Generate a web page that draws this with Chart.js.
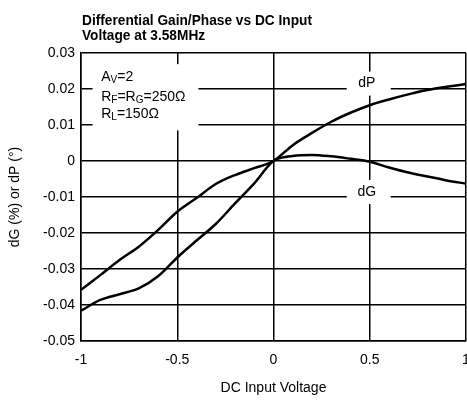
<!DOCTYPE html>
<html>
<head>
<meta charset="utf-8">
<script src="https://cdn.jsdelivr.net/npm/chart.js@4.4.1/dist/chart.umd.min.js"></script>
<style>
  html, body { margin: 0; padding: 0; background: #fff; }
  #wrap { width: 467px; height: 401px; position: relative; }
</style>
</head>
<body>
<div id="wrap"><canvas id="dgChart"></canvas></div>
<script>
// DC input voltage (V)
const voltage = [-1, -0.9, -0.8, -0.7, -0.6, -0.5, -0.4, -0.3, -0.2, -0.1, 0,
                 0.1, 0.2, 0.3, 0.4, 0.5, 0.6, 0.7, 0.8, 0.9, 1];
// differential phase (degrees)
const dP = [-0.0358, -0.0317, -0.0275, -0.0238, -0.0192, -0.0141, -0.0103, -0.0064, -0.0039, -0.002, 0,
            0.0044, 0.0078, 0.0109, 0.0134, 0.0155, 0.0171, 0.0185, 0.0197, 0.0206, 0.0214];
// differential gain (%)
const dG = [-0.0416, -0.0386, -0.037, -0.0354, -0.032, -0.0268, -0.0221, -0.0175, -0.0118, -0.0062, 0,
            0.0014, 0.0017, 0.0013, 0.0006, -0.0002, -0.0018, -0.0032, -0.0043, -0.0054, -0.0063];

const xTicks = [-1, -0.5, 0, 0.5, 1];
const yTicks = [-0.05, -0.04, -0.03, -0.02, -0.01, 0, 0.01, 0.02, 0.03];

const titleLines = ['Differential Gain/Phase vs DC Input', 'Voltage at 3.58MHz'];

const regular = '"Liberation Sans", Arial, sans-serif';

function toPoints(ys) {
    return voltage.map((v, i) => ({ x: v, y: ys[i] }));
}

// draw text with subscript parts: [[text, isSub], ...]
function drawRich(ctx, parts, x, y) {
    parts.forEach(p => {
        if (p[1]) {
            ctx.font = '10px ' + regular;
            ctx.fillText(p[0], x, y + 2);
        } else {
            ctx.font = '14px ' + regular;
            ctx.fillText(p[0], x, y);
        }
        x += ctx.measureText(p[0]).width;
    });
}

// title, condition box and curve labels
const notesPlugin = {
    id: 'notes',
    beforeDatasetsDraw(chart) {
        const ctx = chart.ctx;
        const xs = chart.scales.x, ys = chart.scales.y;
        ctx.save();

        // white box for the test conditions
        const bx = xs.getPixelForValue(-0.94), by = ys.getPixelForValue(0.0269);
        const bw = xs.getPixelForValue(-0.39) - bx, bh = ys.getPixelForValue(0.0085) - by;
        ctx.fillStyle = '#fff';
        ctx.fillRect(bx, by, bw, bh);
        ctx.fillStyle = '#000';
        ctx.textBaseline = 'alphabetic';
        ctx.textAlign = 'left';
        const tx = xs.getPixelForValue(-0.895);
        drawRich(ctx, [['A', false], ['V', true], ['=2', false]], tx, ys.getPixelForValue(0.0222));
        drawRich(ctx, [['R', false], ['F', true], ['=R', false], ['G', true], ['=250Ω', false]], tx, ys.getPixelForValue(0.0167));
        drawRich(ctx, [['R', false], ['L', true], ['=150Ω', false]], tx, ys.getPixelForValue(0.0119));

        // curve labels
        const labels = [['dP', 0.0215], ['dG', -0.0086]];
        ctx.font = '14px ' + regular;
        ctx.textAlign = 'center';
        ctx.textBaseline = 'middle';
        labels.forEach(l => {
            const cx = xs.getPixelForValue(0.5), cy = ys.getPixelForValue(l[1]);
            ctx.fillStyle = '#fff';
            ctx.fillRect(cx - 23, cy - 12, 44, 24);
            ctx.fillStyle = '#000';
            ctx.fillText(l[0], cx - 3, cy);
        });
        ctx.restore();
    },
    afterDraw(chart) {
        const ctx = chart.ctx;
        ctx.save();
        ctx.fillStyle = '#000';
        ctx.font = 'bold 14px ' + regular;
        ctx.textAlign = 'left';
        ctx.textBaseline = 'alphabetic';
        const left = chart.chartArea.left + 1;
        const sx = 230 / ctx.measureText(titleLines[0]).width;
        titleLines.forEach((t, i) => {
            ctx.save();
            ctx.translate(left, 25 + i * 15);
            ctx.scale(sx, 1);
            ctx.fillText(t, 0, 0);
            ctx.restore();
        });
        ctx.restore();
    }
};

new Chart(document.getElementById('dgChart'), {
    type: 'line',
    data: {
        datasets: [{
            label: 'dP',
            data: toPoints(dP),
            borderColor: '#000',
            borderWidth: 2.5,
            pointRadius: 0,
            cubicInterpolationMode: 'monotone',
            fill: false
        }, {
            label: 'dG',
            data: toPoints(dG),
            borderColor: '#000',
            borderWidth: 2.5,
            pointRadius: 0,
            cubicInterpolationMode: 'monotone',
            fill: false
        }]
    },
    options: {
        responsive: true,
        maintainAspectRatio: false,
        animation: false,
        events: [],
        layout: { padding: { top: 53, right: 1, left: 0, bottom: 0 } },
        plugins: {
            legend: { display: false },
            tooltip: { enabled: false },
            title: { display: false }
        },
        scales: {
            x: {
                type: 'linear',
                min: -1,
                max: 1,
                afterBuildTicks(scale) { scale.ticks = xTicks.map(v => ({ value: v })); },
                afterFit(scale) {
                    scale.height = 60;
                    scale.paddingLeft = 0;
                    scale.paddingRight = 0;
                },
                grid: { color: '#000', lineWidth: 1.5, drawTicks: false },
                border: { color: '#000', width: 1.5 },
                ticks: {
                    color: '#000',
                    font: { family: regular, size: 14 },
                    padding: 11,
                    maxRotation: 0,
                    callback: v => String(v)
                },
                title: {
                    display: true,
                    text: 'DC Input Voltage',
                    color: '#000',
                    font: { family: regular, size: 14 },
                    padding: { top: 4, bottom: 4 }
                }
            },
            y: {
                min: -0.05,
                max: 0.03,
                afterBuildTicks(scale) { scale.ticks = yTicks.map(v => ({ value: v })); },
                afterFit(scale) {
                    scale.width = 81;
                    scale.paddingTop = 0;
                    scale.paddingBottom = 0;
                },
                grid: { color: '#000', lineWidth: 1.5, drawTicks: false },
                border: { color: '#000', width: 1.5 },
                ticks: {
                    color: '#000',
                    font: { family: regular, size: 14 },
                    padding: 6,
                    callback: v => String(Number(v.toFixed(2)))
                },
                title: {
                    display: true,
                    text: 'dG (%) or dP (°)',
                    color: '#000',
                    font: { family: regular, size: 14 },
                    padding: { top: 7, bottom: 4 }
                }
            }
        }
    },
    plugins: [notesPlugin]
});
</script>
</body>
</html>
